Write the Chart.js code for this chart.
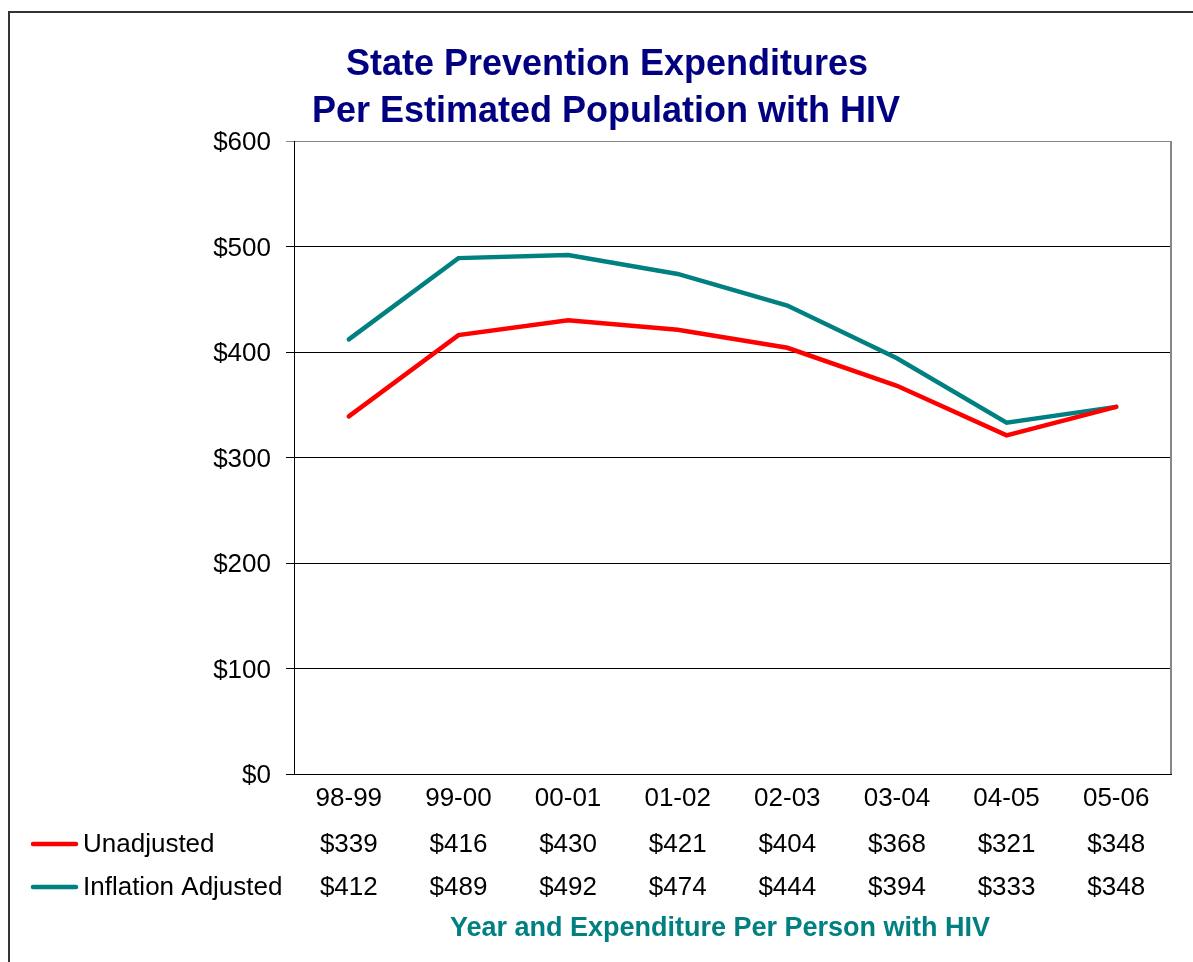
<!DOCTYPE html>
<html>
<head>
<meta charset="utf-8">
<title>State Prevention Expenditures</title>
<script src="https://cdn.jsdelivr.net/npm/chart.js@4"></script>
<style>
    body { margin: 0; background: #fff; }
</style>
</head>
<body>
<canvas id="chart" width="1193" height="962"></canvas>
<script>
// Chart data
const years = ['98-99', '99-00', '00-01', '01-02', '02-03', '03-04', '04-05', '05-06'];
const unadjusted = [339, 416, 430, 421, 404, 368, 321, 348];
const inflationAdjusted = [412, 489, 492, 474, 444, 394, 333, 348];
const yTicks = [0, 100, 200, 300, 400, 500, 600];

const titleLines = ['State Prevention Expenditures', 'Per Estimated Population with HIV'];
const xTitle = 'Year and Expenditure Per Person with HIV';

const FONT = "'Liberation Sans', Arial, sans-serif";

// extra drawing: frame, title, legend + data table, axis title
const decorations = {
    id: 'decorations',
    beforeDraw(chart) {
        const ctx = chart.ctx;
        ctx.save();
        ctx.fillStyle = '#fff';
        ctx.fillRect(0, 0, chart.width, chart.height);
        ctx.strokeStyle = '#333';
        ctx.lineWidth = 2;
        ctx.strokeRect(9, 12, chart.width + 20, chart.height + 20);
        ctx.restore();
    },
    beforeDatasetsDraw(chart) {
        const ctx = chart.ctx;
        const a = chart.chartArea;
        ctx.save();
        ctx.strokeStyle = '#888';
        ctx.lineWidth = 2;
        ctx.beginPath();
        ctx.moveTo(a.right, a.top);
        ctx.lineTo(a.right, a.bottom);
        ctx.stroke();
        ctx.restore();
    },
    afterDraw(chart) {
        const ctx = chart.ctx;
        const x = chart.scales.x;
        ctx.save();

        // title
        ctx.fillStyle = '#000080';
        ctx.font = 'bold 36px ' + FONT;
        ctx.textAlign = 'center';
        ctx.textBaseline = 'middle';
        ctx.fillText(titleLines[0], 607, 65);
        ctx.fillText(titleLines[1], 606, 112);

        // legend rows with values
        const rows = [
            { label: 'Unadjusted', color: '#ff0000', data: unadjusted, y: 845 },
            { label: 'Inflation Adjusted', color: '#008080', data: inflationAdjusted, y: 888 }
        ];
        rows.forEach(r => {
            ctx.strokeStyle = r.color;
            ctx.lineWidth = 4.5;
            ctx.lineCap = 'round';
            ctx.beginPath();
            ctx.moveTo(33, r.y - 1);
            ctx.lineTo(76, r.y - 1);
            ctx.stroke();

            ctx.fillStyle = '#000';
            ctx.font = '26px ' + FONT;
            ctx.textAlign = 'left';
            ctx.fillText(r.label, 83, r.y);

            ctx.textAlign = 'center';
            r.data.forEach((v, i) => {
                ctx.fillText('$' + v, x.getPixelForValue(i), r.y);
            });
        });

        // axis title
        ctx.fillStyle = '#008080';
        ctx.font = 'bold 27px ' + FONT;
        ctx.textAlign = 'center';
        ctx.fillText(xTitle, 720, 929);

        ctx.restore();
    }
};

const ctx = document.getElementById('chart').getContext('2d');
new Chart(ctx, {
    type: 'line',
    data: {
        labels: years,
        datasets: [{
            label: 'Unadjusted',
            data: unadjusted,
            borderColor: '#ff0000',
            borderWidth: 4.5,
            borderCapStyle: 'round',
            pointRadius: 0,
            tension: 0
        }, {
            label: 'Inflation Adjusted',
            data: inflationAdjusted,
            borderColor: '#008080',
            borderWidth: 4.5,
            borderCapStyle: 'round',
            pointRadius: 0,
            tension: 0
        }]
    },
    options: {
        responsive: false,
        animation: false,
        layout: {
            padding: { left: 0, top: 141, right: 22, bottom: 0 }
        },
        plugins: {
            legend: { display: false },
            title: { display: false },
            tooltip: { enabled: false }
        },
        scales: {
            x: {
                offset: true,
                grid: { display: false, drawTicks: false },
                border: { display: true, color: '#000', width: 1 },
                ticks: {
                    color: '#000',
                    font: { family: FONT, size: 26 },
                    padding: 9,
                    maxRotation: 0,
                    autoSkip: false
                },
                afterFit(scale) { scale.height = 188; }
            },
            y: {
                min: 0,
                max: 600,
                afterBuildTicks(scale) {
                    scale.ticks = yTicks.map(v => ({ value: v }));
                },
                grid: {
                    color: c => (c.tick && c.tick.value === 600 ? '#888' : '#000'),
                    lineWidth: 1,
                    tickLength: 8
                },
                border: { display: true, color: '#000', width: 1 },
                ticks: {
                    color: '#000',
                    font: { family: FONT, size: 26 },
                    padding: 15,
                    labelOffset: 2,
                    callback: v => '$' + v
                },
                afterFit(scale) { scale.width = 294; }
            }
        }
    },
    plugins: [decorations]
});
</script>
</body>
</html>
